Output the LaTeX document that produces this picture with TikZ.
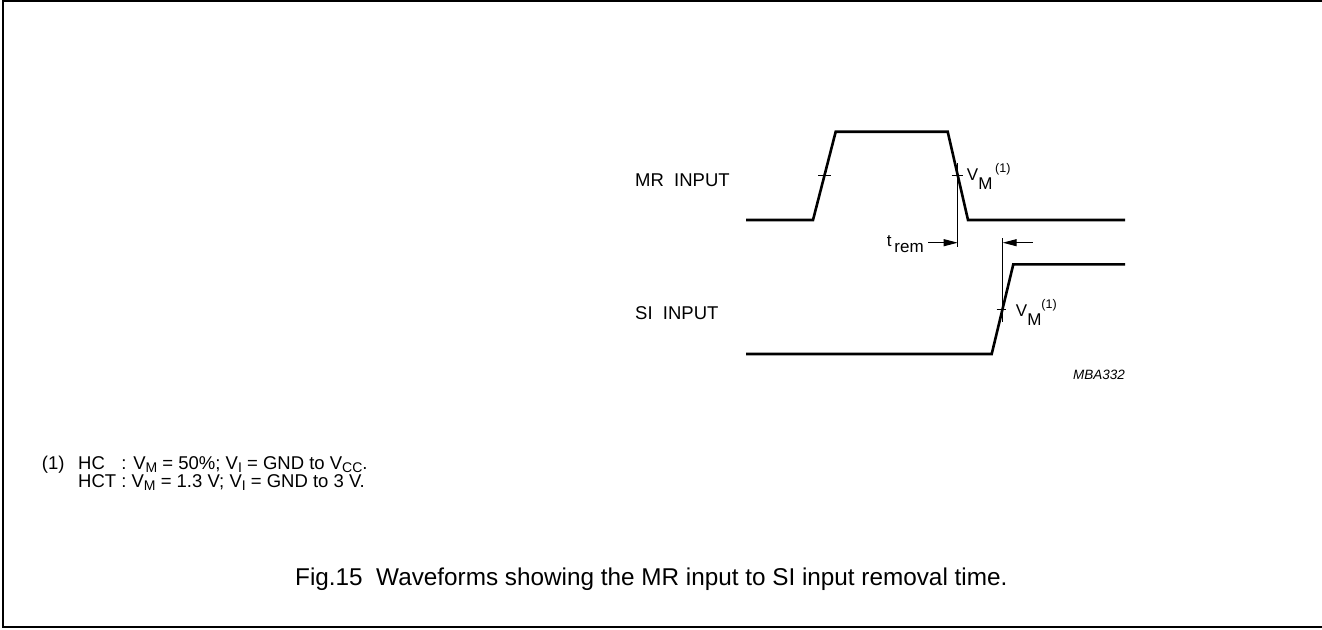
\documentclass[tikz,border=0pt]{standalone}
\usepackage{fontspec}
\setmainfont{Liberation Sans}
\usetikzlibrary{arrows.meta}
\newcommand{\dn}[2]{\raisebox{-#1pt}{#2}}
\newcommand{\up}[2]{\raisebox{#1pt}{#2}}
\newcommand{\fsub}[1]{\raisebox{-3pt}{\fontsize{14}{14}\selectfont #1}}
\begin{document}
\begin{tikzpicture}[x=1pt,y=-1pt,
  wave/.style={line width=2.6pt, line join=miter},
  fine/.style={line width=1pt},
  dimarrow/.style={line width=1pt,-{Triangle[length=14pt,width=7pt]}},
  borderline/.style={line width=2pt},
  lbl/.style={inner sep=0pt,anchor=base west,font=\fontsize{18.5}{22}\selectfont},
  vm/.style={inner sep=0pt,anchor=base west,font=\fontsize{17}{18}\selectfont},
  notetext/.style={inner sep=0pt,anchor=base west,font=\fontsize{18.5}{20}\selectfont},
  captext/.style={inner sep=0pt,anchor=base west,font=\fontsize{24.3}{26}\selectfont},
  idtext/.style={inner sep=0pt,anchor=base west,font=\fontsize{13.5}{15}\selectfont\itshape}]
\useasboundingbox (0,0) rectangle (1322,629);
% frame
\draw[borderline] (1322,1) -- (3,1) -- (3,627) -- (1322,627);
% MR waveform
\draw[wave] (746,220) -- (813,220) -- (835.7,131.7) -- (947.7,131.7) -- (968,220) -- (1125,220);
\draw[fine] (818,175.7) -- (830.7,175.7);
\draw[fine] (951.7,175.7) -- (963,175.7);
% SI waveform
\draw[wave] (746,354) -- (991.7,354) -- (1013.3,264.3) -- (1125,264.3);
\draw[fine] (996.7,309.3) -- (1005.7,309.3);
% reference lines
\coordinate (mrt) at (957.7,163);
\coordinate (mrb) at (957.7,246.7);
\coordinate (sit) at (1002.7,238);
\coordinate (sib) at (1002.7,321.7);
\draw[fine] (mrt) -- (mrb);
\draw[fine] (sit) -- (sib);
\coordinate (a1s) at (928,242.7);
\coordinate (a1e) at (957.7,242.7);
\coordinate (a2s) at (1032.7,242.7);
\coordinate (a2e) at (1002.7,242.7);
\draw[dimarrow] (a1s) -- (a1e);
\draw[dimarrow] (a2s) -- (a2e);
% labels
\node[lbl] (mr) at (635,186) {MR\ \ INPUT};
\node[lbl] (si) at (635,319) {SI\ \ INPUT};
\node[vm] (vm1) at (966.7,180.7) {V\dn{9}{M}\,\up{8}{\fontsize{12.5}{12}\selectfont(1)}};
\node[vm] (vm2) at (1015.7,316.7) {V\dn{9}{M}\up{8}{\fontsize{12.5}{12}\selectfont(1)}};
\node[vm] (trem) at (886.7,246.7) {t\,\dn{6}{rem}};
\node[idtext] (id) at (1073,379.3) {MBA332};
% footnote
\node[notetext] (n1) at (41.7,469) {(1)};
\node[notetext] (n2) at (78,487.5) {\vbox{\baselineskip=18.5pt\lineskiplimit=-100pt
  \hbox{\rlap{HC}\phantom{HCT} : V\fsub{M} = 50\%; V\fsub{I} = GND to V\fsub{CC}.}
  \hbox{HCT : V\fsub{M} = 1.3 V; V\fsub{I} = GND to 3 V.}}};
% caption
\node[captext] (caption) at (295,585) {Fig.15\ \ Waveforms showing the MR input to SI input removal time.};
\end{tikzpicture}
\end{document}
